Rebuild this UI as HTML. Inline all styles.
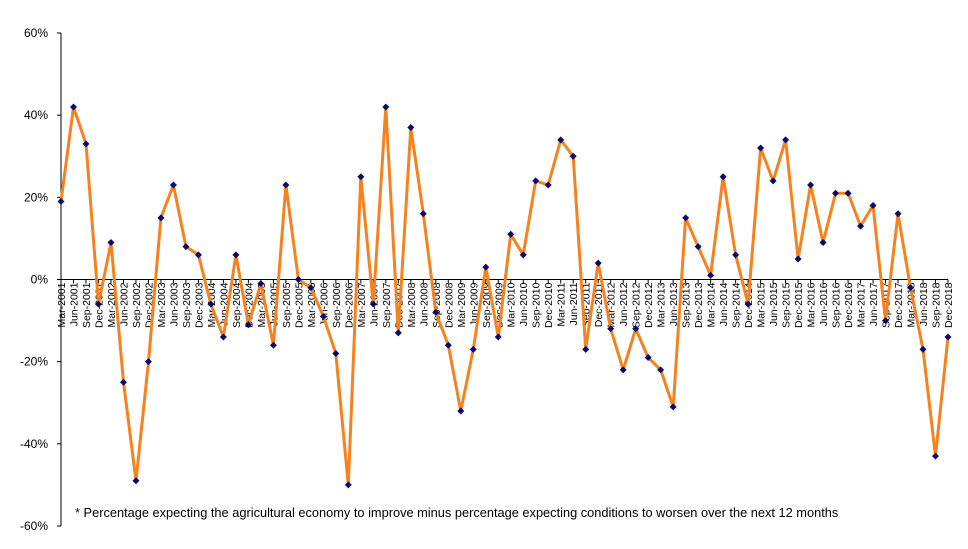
<!DOCTYPE html>
<html><head><meta charset="utf-8"><style>
body{margin:0;background:#fff;font-family:"Liberation Sans",Arial,sans-serif}
svg{display:block}
</style></head><body>
<svg id="chart" width="968" height="549" xmlns="http://www.w3.org/2000/svg">
<g id="axes"></g>
<g id="labels"></g>
<g id="series"></g>
<text x="75" y="517" font-size="12.8" fill="#000">* Percentage expecting the agricultural economy to improve minus percentage expecting conditions to worsen over the next 12 months</text>
</svg>
<script>
const months=["Mar","Jun","Sep","Dec"];
const categories=[];for(let y=2001;y<=2018;y++)for(const m of months)categories.push(m+"-"+y);
const values=[19,42,33,-6,9,-25,-49,-20,15,23,8,6,-6,-14,6,-11,-1,-16,23,0,-2,-9,-18,-50,25,-6,42,-13,37,16,-8,-16,-32,-17,3,-14,11,6,24,23,34,30,-17,4,-12,-22,-12,-19,-22,-31,15,8,1,25,6,-6,32,24,34,5,23,9,21,21,13,18,-10,16,-2,-17,-43,-14];
const yTicks=[60,40,20,0,-20,-40,-60];
const NS="http://www.w3.org/2000/svg";
const x0=61,x1=948,yTop=33,yBot=526;
const yS=v=>yTop+(60-v)/120*(yBot-yTop);
const xS=i=>x0+i*(x1-x0)/(categories.length-1);
function mk(t,a,p){const e=document.createElementNS(NS,t);for(const k in a)e.setAttribute(k,a[k]);p.appendChild(e);return e;}
const axes=document.getElementById('axes'),labels=document.getElementById('labels'),series=document.getElementById('series');
let e=mk('line',{x1:x0,y1:yTop,x2:x0,y2:yBot,stroke:'#000','stroke-width':1},axes);

e=mk('line',{x1:x0,y1:yS(0),x2:x1,y2:yS(0),stroke:'#000','stroke-width':1},axes);

yTicks.forEach(v=>{
 mk('line',{x1:x0-4,y1:yS(v),x2:x0,y2:yS(v),stroke:'#000'},axes);
 const t=mk('text',{x:x0-13,y:yS(v)+4,'text-anchor':'end','font-size':12},axes);t.textContent=v+'%';
 
});
categories.forEach((c,i)=>{
 const x=xS(i);
 mk('line',{x1:x,y1:yS(0),x2:x,y2:yS(0)+4,stroke:'#000'},axes);
 const t=mk('text',{x:0,y:0,'text-anchor':'end','font-size':10.5,transform:`translate(${x+4},${yS(0)+3}) rotate(-90)`},labels);
 t.textContent=c;
 
});
const pts=values.map((v,i)=>xS(i).toFixed(1)+','+yS(v).toFixed(1)).join(' ');
e=mk('polyline',{points:pts,fill:'none',stroke:'#f5821f','stroke-width':3,'stroke-linejoin':'round'},series);

values.forEach((v,i)=>{
 const x=xS(i),y=yS(v);
 const p=mk('polygon',{points:`${x},${y-3.5} ${x+3.5},${y} ${x},${y+3.5} ${x-3.5},${y}`,fill:'#0a0a6e'},series);
 
});
</script>
</body></html>
